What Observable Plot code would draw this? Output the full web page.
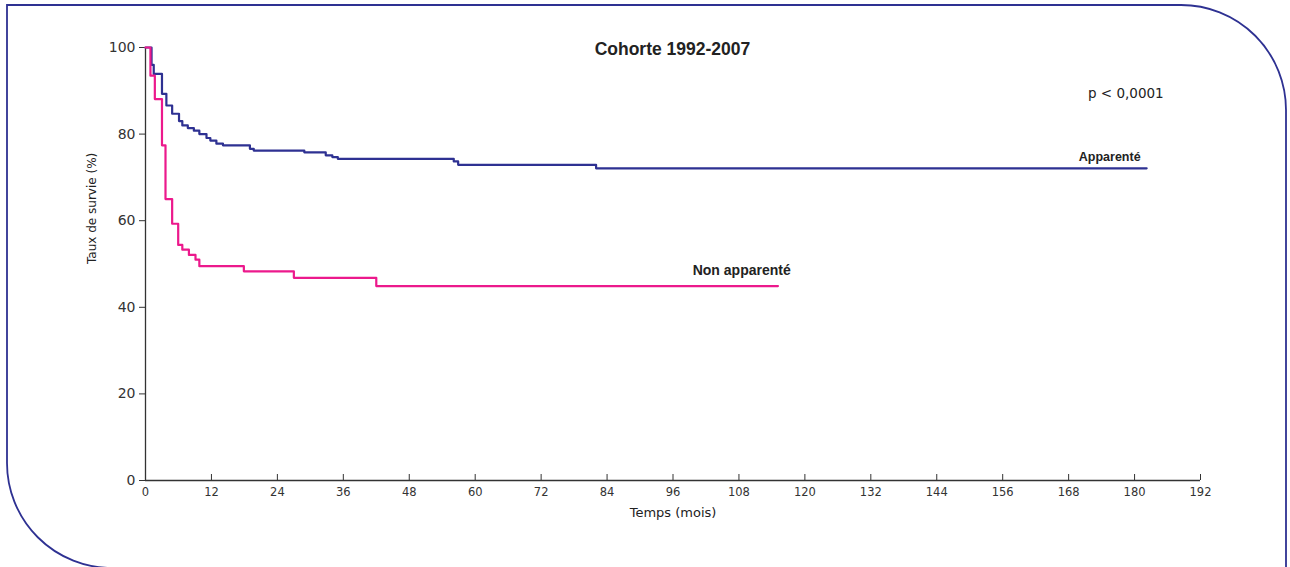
<!DOCTYPE html>
<html>
<head>
<meta charset="utf-8">
<script src="https://cdn.jsdelivr.net/npm/d3@7"></script>
<script src="https://cdn.jsdelivr.net/npm/@observablehq/plot@0.6"></script>
<style>
  html, body { margin: 0; padding: 0; background: #fff; }
  #wrap { position: relative; width: 1290px; height: 567px; overflow: hidden; }
  #wrap svg { position: absolute; left: 0; top: 0; }
</style>
</head>
<body>
<div id="wrap"></div>
<script>
// Data
const xTicks = [0, 12, 24, 36, 48, 60, 72, 84, 96, 108, 120, 132, 144, 156, 168, 180, 192];
const yTicks = [0, 20, 40, 60, 80, 100];

const apparenteTime = [0, 1.1, 1.5, 3.0, 3.8, 4.85, 6.1, 6.7, 7.7, 8.8, 9.8, 11.1, 11.8, 12.9, 14.1, 19.0, 19.7, 28.9, 32.8, 34.0, 35.0, 56.1, 56.9, 82.0, 182.2];
const apparenteSurv = [100, 96.0, 93.9, 89.3, 86.6, 84.7, 83.0, 82.0, 81.4, 80.8, 80.0, 79.1, 78.5, 77.8, 77.4, 76.6, 76.2, 75.8, 75.1, 74.7, 74.3, 73.7, 72.9, 72.1, 72.1];

const nonApparenteTime = [0, 0.9, 1.7, 3.0, 3.64, 4.85, 5.95, 6.7, 7.9, 9.1, 9.8, 17.9, 27.0, 42.0, 115.1];
const nonApparenteSurv = [100, 93.5, 88.1, 77.4, 65.0, 59.3, 54.4, 53.3, 52.1, 51.0, 49.5, 48.3, 46.8, 44.9, 44.9];

const seriesNames = ["Apparenté", "Non apparenté"];
const title = "Cohorte 1992-2007";
const pText = "p < 0,0001";
const xLabel = "Temps (mois)";
const yLabel = "Taux de survie (%)";

const NAVY = "#2e3192";
const PINK = "#ec198c";
const AXIS = "#333";

const rows = [
  ...apparenteTime.map((t, i) => ({t, s: apparenteSurv[i], g: seriesNames[0]})),
  ...nonApparenteTime.map((t, i) => ({t, s: nonApparenteSurv[i], g: seriesNames[1]}))
];

const chart = Plot.plot({
  width: 1290,
  height: 567,
  marginLeft: 145,
  marginRight: 90,
  marginTop: 47,
  marginBottom: 87,
  style: {fontFamily: "DejaVu Sans", fontSize: "12px", color: AXIS, background: "transparent"},
  x: {domain: [0, 192]},
  y: {domain: [0, 100]},
  color: {domain: seriesNames, range: [NAVY, PINK]},
  marks: [
    Plot.axisX({ticks: xTicks, tickSize: -6, tickPadding: 13, stroke: AXIS, fill: AXIS, fontSize: 11.5, label: null}),
    Plot.axisY({ticks: yTicks, tickSize: 6, tickPadding: 4, stroke: AXIS, fill: AXIS, fontSize: 14, label: null}),
    Plot.ruleY([0], {stroke: AXIS, strokeWidth: 1.3}),
    Plot.ruleX([0], {stroke: AXIS, strokeWidth: 1.3}),
    Plot.line(rows, {x: "t", y: "s", stroke: "g", z: "g", curve: "step-after", strokeWidth: 2.2}),
    Plot.text([seriesNames[0]], {x: 181.1, y: 74.8, text: d => d, textAnchor: "end", fontFamily: "Liberation Sans", fontWeight: "bold", fontSize: 12.5, fill: "#222"}),
    Plot.text([seriesNames[1]], {x: 108.5, y: 48.5, text: d => d, textAnchor: "middle", fontFamily: "Liberation Sans", fontWeight: "bold", fontSize: 14, fill: "#222"}),
    Plot.text([pText], {x: 185.3, y: 89.4, text: d => d, textAnchor: "end", fontSize: 13.5, fill: "#222"}),
    Plot.text([title], {x: 95.9, y: 99.5, text: d => d, textAnchor: "middle", fontFamily: "Liberation Sans", fontWeight: "bold", fontSize: 17.5, fill: "#222"}),
    Plot.text([xLabel], {x: 96, text: d => d, frameAnchor: "bottom", dy: 36, fontSize: 13, fill: "#222"}),
    Plot.text([yLabel], {y: 50, text: d => d, frameAnchor: "left", dx: -53, rotate: -90, fontSize: 12, fill: "#222"})
  ]
});

document.getElementById("wrap").appendChild(chart);

// decorative rounded frame
d3.select(chart).insert("path", ":first-child")
  .attr("d", "M7,5 H1181 A105,105 0 0 1 1286,110 V568 H112 A105,105 0 0 1 7,463 Z")
  .attr("fill", "none")
  .attr("stroke", NAVY)
  .attr("stroke-width", 1.8);
</script>
</body>
</html>
